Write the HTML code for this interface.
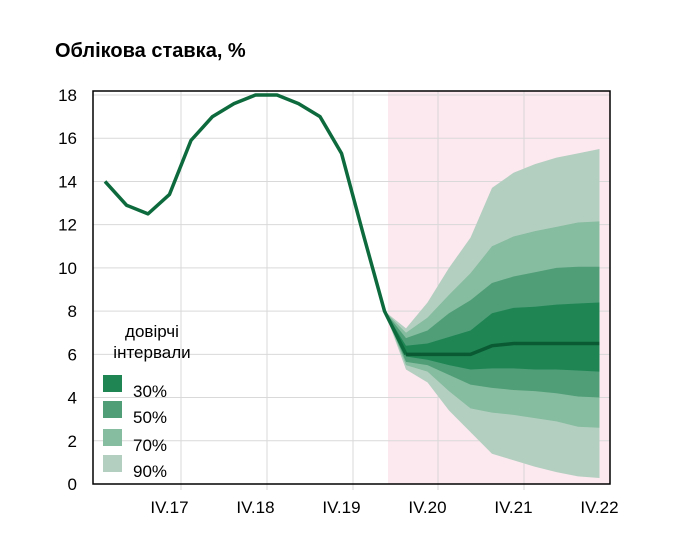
<!DOCTYPE html>
<html><head><meta charset="utf-8"><style>
body{margin:0;background:#fff;}
svg text{font-family:"Liberation Sans","DejaVu Sans",sans-serif;}
</style></head><body>
<svg id="chart" width="682" height="552" viewBox="0 0 682 552" xmlns="http://www.w3.org/2000/svg">
<text x="55" y="57" font-size="20" font-weight="bold" fill="#000">Облікова ставка, %</text>
<g id="g"></g>
</svg>
<script>
const hist = [14.0,12.9,12.5,13.4,15.9,17.0,17.6,18.0,18.0,17.6,17.0,15.3,11.6,8.0,6.0];
const fcst = [6.0,6.0,6.0,6.0,6.4,6.5,6.5,6.5,6.5,6.5];
const up90=[7.2,8.4,10.0,11.4,13.7,14.4,14.8,15.1,15.3,15.5];
const lo90=[5.3,4.7,3.4,2.4,1.4,1.1,0.8,0.55,0.35,0.28];
const up70=[7.0,7.7,8.75,9.75,11.0,11.45,11.7,11.9,12.1,12.15];
const lo70=[5.5,5.2,4.3,3.5,3.3,3.2,3.05,2.9,2.65,2.6];
const up50=[6.75,7.1,7.9,8.5,9.3,9.6,9.8,10.0,10.05,10.05];
const lo50=[5.65,5.5,5.05,4.6,4.45,4.35,4.3,4.2,4.05,4.0];
const up30=[6.4,6.5,6.8,7.1,7.9,8.15,8.2,8.3,8.35,8.4];
const lo30=[5.9,5.75,5.5,5.3,5.35,5.35,5.3,5.3,5.25,5.2];
const yTicks=[0,2,4,6,8,10,12,14,16,18];
const xLabels=["IV.17","IV.18","IV.19","IV.20","IV.21","IV.22"];
const xLabelIdx=[3,7,11,15,19,23];
const fStart=14, bandBase=13;

const L=93,R=610,T=91,B=484;
const X=i=>105+i*21.5;
const Y=v=>B-v*(B-95)/18;
const NS="http://www.w3.org/2000/svg";
const g=document.getElementById('g');
function mk(t,a){const e=document.createElementNS(NS,t);for(const k in a)e.setAttribute(k,a[k]);g.appendChild(e);return e;}

// forecast shading
let e=mk('rect',{x:388,y:T,width:R-388,height:B-T,fill:'#fce8ef'});


// grid
yTicks.forEach(v=>{
 if(v>0){let l=mk('line',{x1:L,x2:R,y1:Y(v),y2:Y(v),stroke:'#d9d9d9','stroke-width':1});
 
 }
 let t=mk('text',{x:77,y:Y(v)+6,'font-size':17,'text-anchor':'end',fill:'#000'});
 t.textContent=v;
 
 
});
[181,267,353,438,524].forEach(x=>{
 let l=mk('line',{x1:x,x2:x,y1:T,y2:B+6,stroke:'#d9d9d9','stroke-width':1});
 
 
});
xLabels.forEach((s,k)=>{
 let t=mk('text',{x:X(xLabelIdx[k]),y:513,'font-size':17,'text-anchor':'middle',fill:'#000'});
 t.textContent=s;
 
 
});
// bands
function band(up,lo,col,name){
 let pts=[[X(bandBase),Y(hist[bandBase])]];
 up.forEach((v,k)=>pts.push([X(fStart+k),Y(v)]));
 for(let k=lo.length-1;k>=0;k--)pts.push([X(fStart+k),Y(lo[k])]);
 let p=mk('polygon',{points:pts.map(p=>p.join(',')).join(' '),fill:col});
 
 
}
band(up90,lo90,'#b3cfc0','band-90');
band(up70,lo70,'#86bc9f','band-70');
band(up50,lo50,'#4f9e78','band-50');
band(up30,lo30,'#1e8553','band-30');
// lines
let hp=hist.map((v,i)=>X(i)+','+Y(v)).join(' ');
e=mk('polyline',{points:hp,fill:'none',stroke:'#0d6a3c','stroke-width':3.5,'stroke-linejoin':'round'});


let fp=fcst.map((v,k)=>X(fStart+k)+','+Y(v)).join(' ');
e=mk('polyline',{points:fp,fill:'none',stroke:'#0a5a33','stroke-width':3.5,'stroke-linejoin':'round'});


// axes frame
e=mk('rect',{x:L,y:T,width:R-L,height:B-T,fill:'none',stroke:'#000','stroke-width':1.5});


// legend
const legT=[['довірчі',337],['інтервали',358]];
legT.forEach(a=>{let t=mk('text',{x:152,y:a[1],'font-size':17,'text-anchor':'middle',fill:'#000'});t.textContent=a[0];
 
 });
const legItems=[['30%','#1e8553',375,397],['50%','#4f9e78',401,423],['70%','#86bc9f',429,451],['90%','#b3cfc0',455,477]];
legItems.forEach(a=>{
 let r=mk('rect',{x:103,y:a[2],width:19,height:17,fill:a[1]});
 
 
 let t=mk('text',{x:133,y:a[3],'font-size':17,fill:'#000'});t.textContent=a[0];
 
 
});
</script>
</body></html>
